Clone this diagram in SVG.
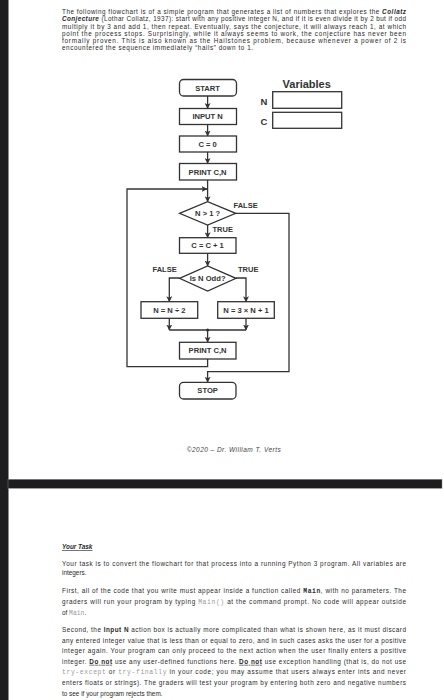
<svg xmlns="http://www.w3.org/2000/svg" width="444" height="700" viewBox="0 0 444 700">
<style>
.p{font-family:"Liberation Sans",Arial,sans-serif;font-size:6.4px;fill:#2a2a2a}
.q{font-family:"Liberation Sans",Arial,sans-serif;font-size:6.35px;fill:#2a2a2a}
.bi{font-weight:bold;font-style:italic}
.b{font-weight:bold}
.m{font-family:"Liberation Mono","DejaVu Sans Mono",monospace;fill:#9a9a9a}
.mb{font-family:"Liberation Mono","DejaVu Sans Mono",monospace;font-weight:bold;fill:#2a2a2a}
.box{fill:#fff;stroke:#333;stroke-width:1.3}
.t{font-family:"Liberation Sans",Arial,sans-serif;font-size:7.6px;font-weight:bold;fill:#333;text-anchor:middle}
.lbl{font-family:"Liberation Sans",Arial,sans-serif;font-size:7.5px;font-weight:bold;fill:#333}
.c{fill:none;stroke:#333;stroke-width:1.3}
</style>
<defs>
<marker id="ah" markerWidth="6" markerHeight="6" refX="5.5" refY="3" orient="auto" markerUnits="userSpaceOnUse">
<path d="M0,0 L6,3 L0,6 L1.5,3 z" fill="#333"/>
</marker>
</defs>
<rect x="0" y="0" width="444" height="700" fill="#fff"/>
<rect x="0" y="0" width="8.5" height="700" fill="#1d1d1f"/>
<rect x="8" y="479.3" width="434" height="9" fill="#1d1d1f" stroke="#888" stroke-width="0.5"/>

<g id="intro">
<text class="q" x="62" y="13.9" textLength="344" lengthAdjust="spacing">The following flowchart is of a simple program that generates a list of numbers that explores the <tspan class="bi">Collatz</tspan></text>
<text class="q" x="62" y="21.4" textLength="344" lengthAdjust="spacing"><tspan class="bi">Conjecture</tspan> (Lothar Collatz, 1937): start with any positive integer N, and if it is even divide it by 2 but if odd</text>
<text class="q" x="62" y="28.6" textLength="344" lengthAdjust="spacing">multiply it by 3 and add 1, then repeat.  Eventually, says the conjecture, it will always reach 1, at which</text>
<text class="q" x="62" y="35.7" textLength="344" lengthAdjust="spacing">point the process stops.  Surprisingly, while it always seems to work, the conjecture has never been</text>
<text class="q" x="62" y="42.8" textLength="344" lengthAdjust="spacing">formally proven.  This is also known as the Hailstones problem, because whenever a power of 2 is</text>
<text class="q" x="62" y="50" textLength="191" lengthAdjust="spacing">encountered the sequence immediately “hails” down to 1.</text>
</g>

<g id="connectors">
<line class="c" x1="207.6" y1="96" x2="207.6" y2="108.5" marker-end="url(#ah)"/>
<line class="c" x1="207.6" y1="124.5" x2="207.6" y2="136" marker-end="url(#ah)"/>
<line class="c" x1="207.6" y1="152" x2="207.6" y2="163.5" marker-end="url(#ah)"/>
<line class="c" x1="207.6" y1="180" x2="207.6" y2="201.7" marker-end="url(#ah)"/>
<polyline class="c" points="207.6,359 207.6,366.7 127,366.7 127,189 207,189" marker-end="url(#ah)"/>
<polyline class="c" points="235.7,213.3 289,213.3 289,371.7 207.6,371.7 207.6,382.3" marker-end="url(#ah)"/>
<line class="c" x1="207.6" y1="225" x2="207.6" y2="237.7" marker-end="url(#ah)"/>
<line class="c" x1="207.6" y1="253.3" x2="207.6" y2="266" marker-end="url(#ah)"/>
<polyline class="c" points="179.5,278 169.3,278 169.3,301.7" marker-end="url(#ah)"/>
<polyline class="c" points="236,278 246,278 246,301.7" marker-end="url(#ah)"/>
<line class="c" x1="169.3" y1="318.3" x2="169.3" y2="330" marker-end="url(#ah)"/>
<line class="c" x1="246" y1="318.3" x2="246" y2="330" marker-end="url(#ah)"/>
<line class="c" x1="169.3" y1="330" x2="246" y2="330"/>
<circle cx="207.6" cy="330" r="1.6" fill="#333"/>
<line class="c" x1="207.6" y1="330" x2="207.6" y2="342.3" marker-end="url(#ah)"/>
<text class="lbl" x="233.5" y="207.8">FALSE</text>
<text class="lbl" x="212.5" y="231.8">TRUE</text>
<text class="lbl" x="152.5" y="272">FALSE</text>
<text class="lbl" x="238" y="272">TRUE</text>
</g>

<g id="start"><rect class="box" x="179.5" y="79.5" width="57" height="16.5" rx="4"/><text class="t" x="207.6" y="90.5">START</text></g>
<g id="input"><rect class="box" x="179.5" y="108.5" width="57" height="16"/><text class="t" x="207.6" y="119.2">INPUT N</text></g>
<g id="c0"><rect class="box" x="179.5" y="136" width="57" height="16"/><text class="t" x="207.6" y="146.7">C = 0</text></g>
<g id="print1"><rect class="box" x="179.5" y="163.5" width="57" height="16.5"/><text class="t" x="207.6" y="174.5">PRINT C,N</text></g>
<g id="test1"><polygon class="box" points="179.5,213.3 207.6,201.7 235.7,213.3 207.6,225"/><text class="t" x="207.6" y="216">N &gt; 1 ?</text></g>
<g id="inc"><rect class="box" x="179.5" y="237.7" width="56.5" height="15.6"/><text class="t" x="207.6" y="248.2">C = C + 1</text></g>
<g id="test2"><polygon class="box" points="179.5,278.3 207.6,266 236,278.3 207.6,291"/><text class="t" x="207.6" y="281">Is N Odd?</text></g>
<g id="half"><rect class="box" x="141" y="301.7" width="56.7" height="16.6"/><text class="t" x="169.3" y="312.6">N = N ÷ 2</text></g>
<g id="triple"><rect class="box" x="217.7" y="301.7" width="56.6" height="16.6"/><text class="t" x="246" y="312.6">N = 3 × N + 1</text></g>
<g id="print2"><rect class="box" x="179.5" y="342.3" width="56.5" height="16.7"/><text class="t" x="207.6" y="353.3">PRINT C,N</text></g>
<g id="stop"><rect class="box" x="179.5" y="382.3" width="56.5" height="16.7" rx="4"/><text class="t" x="207.6" y="393.3">STOP</text></g>

<g id="variables">
<text x="306.7" y="88" font-family="Liberation Sans,Arial,sans-serif" font-size="11" font-weight="bold" fill="#333" text-anchor="middle">Variables</text>
<text x="264" y="104.5" font-family="Liberation Sans,Arial,sans-serif" font-size="9.5" font-weight="bold" fill="#333" text-anchor="middle">N</text>
<rect class="box" x="272.7" y="91.7" width="69" height="16.6"/>
<text x="264" y="124.5" font-family="Liberation Sans,Arial,sans-serif" font-size="9.5" font-weight="bold" fill="#333" text-anchor="middle">C</text>
<rect class="box" x="272.7" y="112.3" width="69" height="16"/>
</g>

<g id="credit"><text x="186.7" y="451.5" font-family="Liberation Sans,Arial,sans-serif" font-size="6.5" font-style="italic" fill="#444" textLength="94" lengthAdjust="spacing">©2020 – Dr. William T. Verts</text></g>

<g id="task">
<text class="p bi" x="62" y="549.3" text-decoration="underline">Your Task</text>
<text class="p" x="62" y="565.6" textLength="344" lengthAdjust="spacing">Your task is to convert the flowchart for that process into a running Python 3 program.  All variables are</text>
<text class="p" x="62" y="574.8">integers.</text>
<text class="p" x="62" y="593" textLength="344" lengthAdjust="spacing">First, all of the code that you write must appear inside a function called <tspan class="mb">Main</tspan>, with no parameters.  The</text>
<text class="p" x="62" y="603.7" textLength="344" lengthAdjust="spacing">graders will run your program by typing <tspan class="m">Main()</tspan> at the command prompt.  No code will appear outside</text>
<text class="p" x="62" y="614.8">of <tspan class="m">Main</tspan>.</text>
<text class="p" x="62" y="631.8" textLength="344" lengthAdjust="spacing">Second, the <tspan class="b">Input N</tspan> action box is actually more complicated than what is shown here, as it must discard</text>
<text class="p" x="62" y="642.5" textLength="344" lengthAdjust="spacing">any entered integer value that is less than or equal to zero, and in such cases asks the user for a positive</text>
<text class="p" x="62" y="653.1" textLength="344" lengthAdjust="spacing">integer again.  Your program can only proceed to the next action when the user finally enters a positive</text>
<text class="p" x="62" y="663.8" textLength="344" lengthAdjust="spacing">integer.  <tspan class="b" text-decoration="underline">Do not</tspan> use any user-defined functions here.  <tspan class="b" text-decoration="underline">Do not</tspan> use exception handling (that is, do not use</text>
<text class="p" x="62" y="674.4" textLength="344" lengthAdjust="spacing"><tspan class="m">try-except</tspan> or <tspan class="m">try-finally</tspan> in your code; you may assume that users always enter ints and never</text>
<text class="p" x="62" y="685.1" textLength="344" lengthAdjust="spacing">enters floats or strings).  The graders will test your program by entering both zero and negative numbers</text>
<text class="p" x="62" y="695.7">to see if your program rejects them.</text>
</g>
</svg>
